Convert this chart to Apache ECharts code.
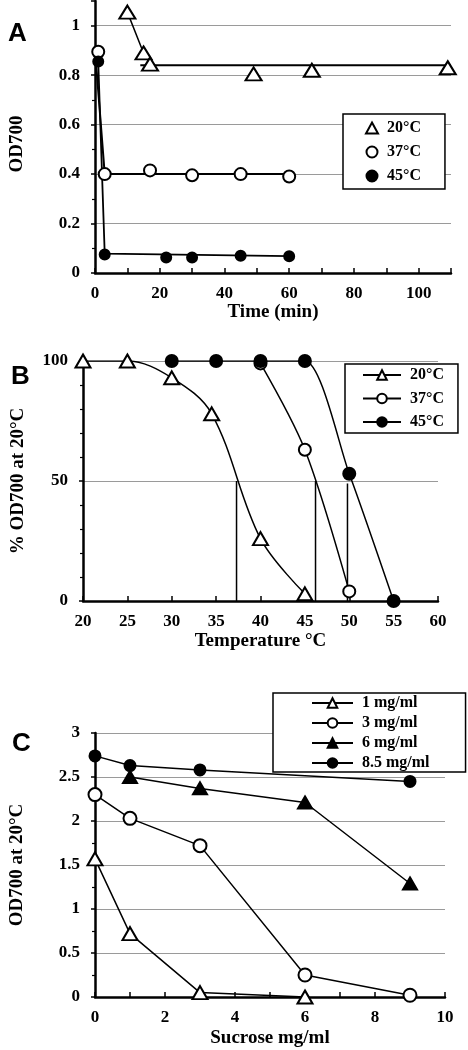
<!DOCTYPE html>
<html><head><meta charset="utf-8">
<script src="https://cdn.jsdelivr.net/npm/echarts@6/dist/echarts.min.js"></script>
<style>html,body{margin:0;padding:0;background:#fff}#c{width:468px;height:1050px}</style>
</head><body><div id="c"></div>
<script>
// ---------- Panel A : OD700 vs time ----------
const aTime20 = [10, 15, 17, 49, 67, 109];
const aOd20   = [1.055, 0.89, 0.845, 0.805, 0.82, 0.83];
const aTime37 = [1, 3, 17, 30, 45, 60];
const aOd37   = [0.895, 0.40, 0.415, 0.395, 0.40, 0.39];
const aTime45 = [1, 3, 22, 30, 45, 60];
const aOd45   = [0.855, 0.075, 0.063, 0.063, 0.07, 0.068];
// fitted lines in panel A
const aFit20X = [10, 15, 17];
const aFit20Y = [1.055, 0.89, 0.845];
const aLevel20X = [14, 110];
const aLevel20Y = [0.84, 0.84];
const aFit37X = [0.2, 3, 60];
const aFit37Y = [0.87, 0.40, 0.40];
const aFit45X = [1, 3, 60];
const aFit45Y = [0.855, 0.078, 0.068];
const aXTicks = [0, 20, 40, 60, 80, 100];
const aYTicks = [0, 0.2, 0.4, 0.6, 0.8, 1];

// ---------- Panel B : % OD700 at 20°C vs temperature ----------
const bTemp20 = [20, 25, 30, 34.5, 40, 45];
const bPct20  = [100, 100, 93, 78, 26, 3];
const bTemp37 = [40, 45, 50];
const bPct37  = [99, 63, 4];
const bTemp45 = [30, 35, 40, 45, 50, 55];
const bPct45  = [100, 100, 100, 100, 53, 0];
const bHalfTemp = [37.3, 46.2, 49.8];
const bHalfTop  = [50, 50, 49];
const bYTicks = [0, 50, 100];

// ---------- Panel C : OD700 at 20°C vs sucrose ----------
const cSuc1  = [0, 1, 3, 6];
const cOd1   = [1.57, 0.72, 0.05, 0.0];
const cSuc3  = [0, 1, 3, 6, 9];
const cOd3   = [2.30, 2.03, 1.72, 0.25, 0.02];
const cSuc6  = [1, 3, 6, 9];
const cOd6   = [2.50, 2.37, 2.21, 1.29];
const cSuc85 = [0, 1, 3, 9];
const cOd85  = [2.74, 2.63, 2.58, 2.45];
const cXTicks = [0, 2, 4, 6, 8, 10];

const legendNames = {
  A20: '20°C', A37: '37°C', A45: '45°C',
  B20: '20°C', B37: '37°C', B45: '45°C',
  C1: '1 mg/ml', C3: '3 mg/ml', C6: '6 mg/ml', C85: '8.5 mg/ml'
};

const zip = (xs, ys) => xs.map((x, i) => [x, ys[i]]);
const SERIF = '"Liberation Serif","Times New Roman",serif';
const tickFont = { color: '#000', fontFamily: SERIF, fontWeight: 'bold', fontSize: 17 };
const nameFont = { color: '#000', fontFamily: SERIF, fontWeight: 'bold', fontSize: 19 };
const axisLine = { show: true, lineStyle: { color: '#000', width: 2.5 } };
const gridColor = '#9a9a9a';

function xAx(idx, min, max, interval, labels, name, gap) {
  return {
    gridIndex: idx, type: 'value', min, max, interval,
    axisLine, axisTick: { show: true, inside: true, length: 5, lineStyle: { color: '#000', width: 1.5 } },
    axisLabel: Object.assign({ margin: 12, formatter: v => labels.some(t => Math.abs(t - v) < 1e-9) ? String(v) : '' }, tickFont),
    splitLine: { show: false },
    name, nameLocation: 'middle', nameGap: gap, nameTextStyle: nameFont
  };
}
function yAx(idx, min, max, interval, labels, name, gap, splitColors, minorN, pad) {
  return {
    gridIndex: idx, type: 'value', min, max, interval,
    axisLine, axisTick: { show: true, length: 4, lineStyle: { color: '#000', width: 1.5 } },
    minorTick: { show: true, splitNumber: minorN, length: 3, lineStyle: { color: '#000', width: 1.2 } },
    axisLabel: Object.assign({ margin: 15, formatter: v => labels.some(t => Math.abs(t - v) < 1e-9) ? String(v) : '' }, tickFont),
    splitLine: { show: true, lineStyle: { color: splitColors, width: 1 } },
    name, nameLocation: 'middle', nameGap: gap, nameTextStyle: Object.assign({ padding: pad }, nameFont)
  };
}
function fitLine(xi, x, y, w) {
  return { type: 'line', xAxisIndex: xi, yAxisIndex: xi, data: zip(x, y), symbol: 'none',
    lineStyle: { color: '#000', width: w || 1.5 }, silent: true, z: 2, animation: false };
}
function marks(name, xi, x, y, symbol, size) {
  return { name, type: 'scatter', xAxisIndex: xi, yAxisIndex: xi, data: zip(x, y), symbol, symbolSize: size,
    itemStyle: { color: '#000', borderColor: '#000', borderWidth: 2, opacity: 1 }, z: 5, animation: false };
}
function curve(name, xi, x, y, symbol, size, smooth) {
  return { name, type: 'line', xAxisIndex: xi, yAxisIndex: xi, data: zip(x, y), symbol, symbolSize: size,
    smooth: smooth, showAllSymbol: true,
    lineStyle: { color: '#000', width: 1.5 },
    itemStyle: { color: '#000', borderColor: '#000', borderWidth: 2 }, z: 5, animation: false };
}

const A_split = [gridColor, gridColor, gridColor, gridColor, gridColor, gridColor, 'rgba(0,0,0,0)'];
const legendText = { color: '#000', fontFamily: SERIF, fontWeight: 'bold', fontSize: 16, padding: [0, 0, 0, 4] };

const series = [
  // Panel A
  fitLine(0, aFit20X, aFit20Y), fitLine(0, aLevel20X, aLevel20Y, 2),
  fitLine(0, aFit37X, aFit37Y, 2), fitLine(0, aFit45X, aFit45Y, 1.8),
  marks('A20', 0, aTime20, aOd20, 'emptyTriangle', [16, 13]),
  marks('A37', 0, aTime37, aOd37, 'emptyCircle', 12),
  marks('A45', 0, aTime45, aOd45, 'circle', 10),
  // Panel B
  ...bHalfTemp.map((t, i) => fitLine(1, [t, t], [0, bHalfTop[i]], 1.5)),
  curve('B20', 1, bTemp20, bPct20, 'emptyTriangle', [15, 13], 0.35),
  curve('B37', 1, bTemp37, bPct37, 'emptyCircle', 12, 0.3),
  curve('B45', 1, bTemp45, bPct45, 'circle', 12, 0.25),
  // Panel C
  curve('C1', 2, cSuc1, cOd1, 'emptyTriangle', [15, 13], false),
  curve('C3', 2, cSuc3, cOd3, 'emptyCircle', 13, false),
  curve('C6', 2, cSuc6, cOd6, 'triangle', [14, 12], false),
  curve('C85', 2, cSuc85, cOd85, 'circle', 11, false)
];

const option = {
  backgroundColor: '#fff',
  animation: false,
  grid: [
    { left: 84, top: 1, width: 367, height: 272 },
    { left: 83, top: 361, width: 355, height: 240 },
    { left: 88, top: 733, width: 357, height: 264 }
  ],
  xAxis: [
    xAx(0, 0, 110, 10, aXTicks, 'Time (min)', 30),
    xAx(1, 20, 60, 5, [20, 25, 30, 35, 40, 45, 50, 55, 60], 'Temperature °C', 31),
    xAx(2, 0, 10, 1, cXTicks, 'Sucrose mg/ml', 32)
  ],
  yAxis: [
    yAx(0, 0, 1.1, 0.2, aYTicks, 'OD700', 68, A_split, 2, [0, 14, 0, 0]),
    yAx(1, 0, 100, 50, bYTicks, '% OD700 at 20°C', 55, gridColor, 5, 0),
    yAx(2, 0, 3, 0.5, [0, 0.5, 1, 1.5, 2, 2.5, 3], 'OD700 at 20°C', 68, gridColor, 2, 0)
  ],
  legend: [
    { data: [{ name: 'A20', icon: 'emptyTriangle' }, { name: 'A37', icon: 'emptyCircle' }, { name: 'A45', icon: 'circle' }],
      formatter: n => legendNames[n], orient: 'vertical', left: 343, top: 114,
      itemWidth: 12, itemHeight: 11, itemGap: 8, padding: [6, 24, 5, 22],
      backgroundColor: '#fff', borderColor: '#000', borderWidth: 1.5, borderRadius: 0,
      textStyle: legendText, selectedMode: false },
    { data: ['B20', 'B37', 'B45'], formatter: n => legendNames[n], orient: 'vertical', left: 345, top: 364,
      itemWidth: 38, itemHeight: 12, itemGap: 7.5, padding: [3, 14, 3, 17],
      backgroundColor: '#fff', borderColor: '#000', borderWidth: 1.5, borderRadius: 0,
      textStyle: legendText, selectedMode: false },
    { data: ['C1', 'C3', 'C6', 'C85'], formatter: n => legendNames[n], orient: 'vertical', left: 273, top: 693,
      itemWidth: 41, itemHeight: 12, itemGap: 4, padding: [2, 36, 1, 38],
      backgroundColor: '#fff', borderColor: '#000', borderWidth: 1.5, borderRadius: 0,
      textStyle: legendText, selectedMode: false }
  ],
  graphic: [
    { type: 'text', left: 8, top: 21, style: { text: 'A', font: 'bold 26px "Liberation Sans", Arial, sans-serif', fill: '#000' } },
    { type: 'text', left: 11, top: 364, style: { text: 'B', font: 'bold 26px "Liberation Sans", Arial, sans-serif', fill: '#000' } },
    { type: 'text', left: 12, top: 731, style: { text: 'C', font: 'bold 26px "Liberation Sans", Arial, sans-serif', fill: '#000' } }
  ],
  series
};
const chart = echarts.init(document.getElementById('c'), null, { renderer: 'canvas' });
chart.setOption(option);
</script>
</body></html>
